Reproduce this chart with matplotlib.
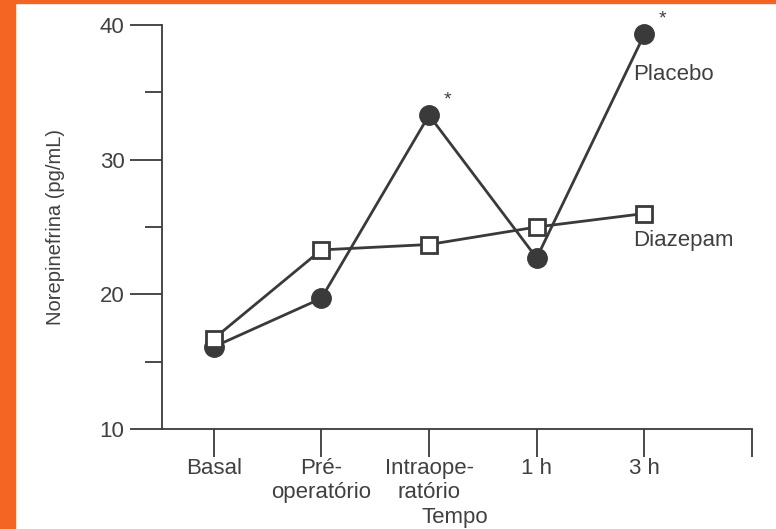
import matplotlib
matplotlib.use("Agg")
import matplotlib.pyplot as plt
from matplotlib.patches import Rectangle

plt.rcParams['font.family'] = ['Liberation Sans', 'DejaVu Sans']

# data
tempos = ["Basal", "Pré-\noperatório", "Intraope-\nratório", "1 h", "3 h"]
placebo = [16.1, 19.7, 33.3, 22.7, 39.3]
diazepam = [16.7, 23.3, 23.7, 25.0, 26.0]
signif = [2, 4]  # points marked with *

ink = "#3a3a3a"
txt = "#404040"

fig = plt.figure(figsize=(7.76, 5.29), dpi=100)
fig.patch.set_facecolor("white")
# orange frame on the slide
fig.patches.append(Rectangle((0, 0), 15 / 776, 1, transform=fig.transFigure,
                             color="#f26522", zorder=0))
fig.patches.append(Rectangle((0, 1 - 3 / 529), 1, 3 / 529, transform=fig.transFigure,
                             color="#f26522", zorder=0))

ax = fig.add_axes([162 / 776, 1 - 429 / 529, (752 - 162) / 776, (429 - 25) / 529])
x = list(range(len(tempos)))

ax.plot(x, placebo, color=ink, lw=2, marker="o", ms=14, mfc=ink, mec=ink,
        clip_on=False, zorder=3)
ax.plot(x, diazepam, color=ink, lw=2, marker="s", ms=12, mfc="white", mec=ink,
        mew=2, clip_on=False, zorder=4)

for i in signif:
    ax.text(x[i] + 0.17, placebo[i] + 0.5, "*", color=txt, fontsize=14,
            ha="center", va="bottom")

ax.text(3.9, 36.3, "Placebo", color=txt, fontsize=16, ha="left", va="center")
ax.text(3.9, 24.0, "Diazepam", color=txt, fontsize=16, ha="left", va="center")

ax.set_xlim(-0.48, 5.0)
ax.set_ylim(10, 40)
ax.set_xticks(x + [5])
ax.set_xticklabels(tempos + [""], fontsize=16, color=txt, linespacing=1.15)
ax.set_yticks([10, 20, 30, 40])
ax.set_yticks([15, 25, 35], minor=True)
ax.tick_params(axis="y", which="major", length=23, width=1.3, color=ink,
               labelsize=16, labelcolor=txt, pad=4)
ax.tick_params(axis="y", which="minor", length=12, width=1.3, color=ink)
ax.tick_params(axis="x", length=20, width=1.3, color=ink, pad=1)
for lab in ax.get_xticklabels():
    lab.set_verticalalignment("top")

ax.spines["top"].set_visible(False)
ax.spines["right"].set_visible(False)
for s in ("left", "bottom"):
    ax.spines[s].set_color(ink)
    ax.spines[s].set_linewidth(1.3)

ax.set_ylabel("Norepinefrina (pg/mL)", fontsize=14.5, color=txt)
ax.yaxis.set_label_coords(-0.165, 0.5)
fig.text(455 / 776, 1 - 517 / 529, "Tempo", fontsize=16, color=txt,
         ha="center", va="center")

fig.savefig("out.png", dpi=100, facecolor="white")
